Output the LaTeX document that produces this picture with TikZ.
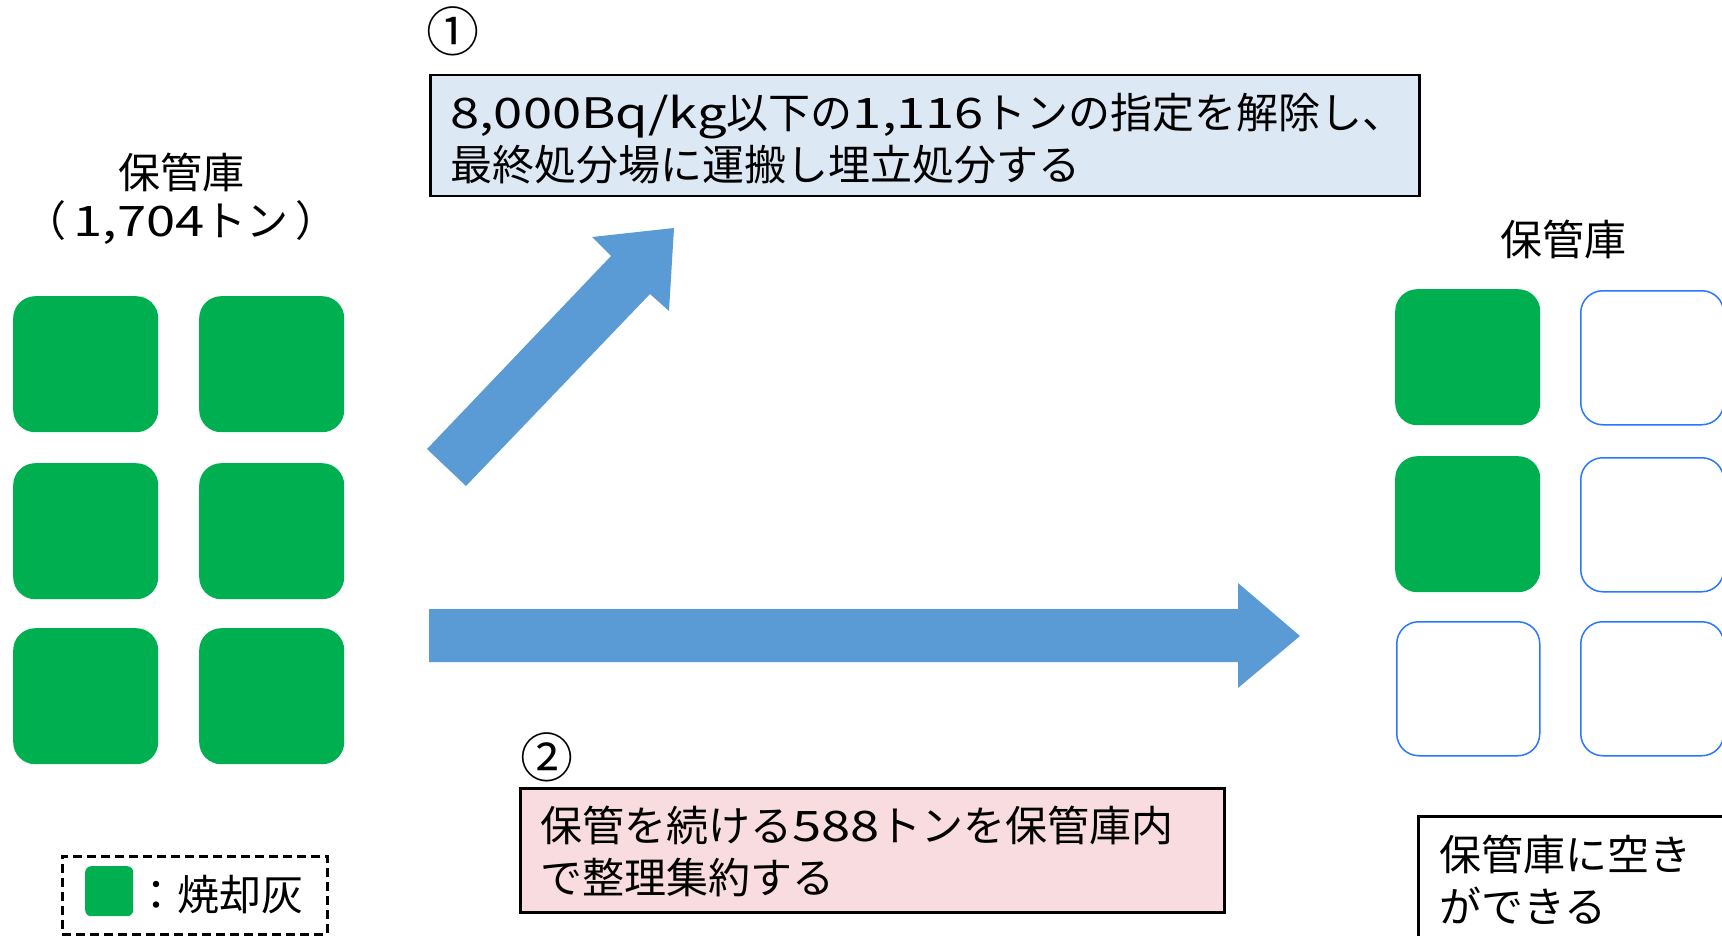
\documentclass[tikz,border=0pt]{standalone}
\usepackage{fontspec}
\setmainfont{Noto Sans CJK JP}
\newfontfamily\wlat[FakeStretch=1.25]{Noto Sans CJK JP}
\definecolor{ashgreen}{HTML}{00B050}
\definecolor{arrowblue}{HTML}{5B9BD5}
\definecolor{emptyblue}{RGB}{40,120,255}
\definecolor{boxblue}{HTML}{DDE8F5}
\definecolor{boxpink}{HTML}{F8DCE0}
\tikzset{
  ash/.style={fill=ashgreen, draw=none, rounded corners=22pt, minimum width=145pt, minimum height=136pt, anchor=north west, inner sep=0pt},
  emptycell/.style={draw=emptyblue, line width=1.5pt, fill=white, rounded corners=22pt, minimum width=143pt, minimum height=134pt, anchor=north west, inner sep=0pt},
  txt/.style={font=\fontsize{42}{52}\selectfont, inner sep=0pt},
  msgbox/.style={draw=black, line width=2.5pt, anchor=north west, inner sep=0pt},
  msgtxt/.style={font=\fontsize{42}{52}\selectfont, align=left, anchor=west, inner sep=0pt},
  numlbl/.style={font=\fontsize{53}{53}\selectfont, inner sep=0pt},
  bigarrow/.style={fill=arrowblue, draw=none}
}
\begin{document}
\begin{tikzpicture}[x=1pt,y=-1pt]
\useasboundingbox (0,0) rectangle (1722,936);

% left storehouse
\node[txt] (ltitle) at (181,172) {保管庫};
\node[txt] (lamount) at (181,223) {（\,{\wlat 1,704}トン\,）};
\node[ash] (l11) at (13,296) {};
\node[ash] (l12) at (199,296) {};
\node[ash] (l21) at (13,463) {};
\node[ash] (l22) at (199,463) {};
\node[ash] (l31) at (13,628) {};
\node[ash] (l32) at (199,628) {};

% legend
\node[draw=black, line width=2.5pt, dash pattern=on 9pt off 5pt, anchor=north west, minimum width=265pt, minimum height=78pt, inner sep=0pt] (legend) at (61,855) {};
\node[fill=ashgreen, rounded corners=6pt, minimum width=48pt, minimum height=50pt, anchor=north west, inner sep=0pt] (legsq) at (85,866) {};
\node[txt, anchor=west] (legtxt) at (135,895) {：焼却灰};

% step 1
\node[numlbl] (n1) at (453,31) {①};
\node[msgbox, fill=boxblue, minimum width=989pt, minimum height=121pt] (box1) at (429,74) {};
\node[msgtxt] (t1) at (450,139) {{\wlat 8,000Bq/kg}以下の{\wlat 1,116}トンの指定を解除し、\\最終処分場に運搬し埋立処分する};

% diagonal arrow
\fill[bigarrow] (427,449) -- (611,256) -- (592,237) -- (674,228) -- (669,311) -- (650,294) -- (466,486) -- cycle;

% horizontal arrow
\fill[bigarrow] (429,609) -- (1238,609) -- (1238,583) -- (1300,636) -- (1238,688) -- (1238,662) -- (429,662) -- cycle;

% step 2
\node[numlbl] (n2) at (547,757) {②};
\node[msgbox, fill=boxpink, minimum width=704pt, minimum height=124pt] (box2) at (519,787) {};
\node[msgtxt] (t2) at (540,851) {保管を続ける{\wlat 588}トンを保管庫内\\で整理集約する};

% right storehouse
\node[txt] (rtitle) at (1563,239) {保管庫};
\node[ash] (r11) at (1395,289) {};
\node[emptycell] (r12) at (1580,290) {};
\node[ash] (r21) at (1395,456) {};
\node[emptycell] (r22) at (1580,457) {};
\node[emptycell] (r31) at (1396,621) {};
\node[emptycell] (r32) at (1580,621) {};

% result
\node[msgbox, fill=white, minimum width=330pt, minimum height=140pt] (box3) at (1417,815) {};
\node[msgtxt] (t3) at (1439,880) {保管庫に空き\\ができる};
\end{tikzpicture}
\end{document}
